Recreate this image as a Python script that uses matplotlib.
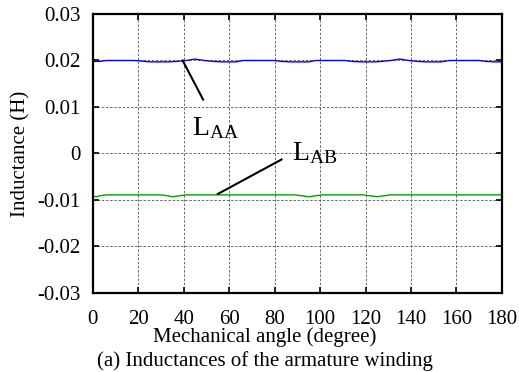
import numpy as np
import matplotlib
matplotlib.use('Agg')
import matplotlib.pyplot as plt

# self inductance of phase A (H) vs mechanical angle (deg)
angle_aa = [0, 3, 6, 18, 21, 25, 33, 37, 41, 45, 49, 53, 57, 63, 66, 80, 83,
            87, 95, 98, 111, 114, 118, 124, 127, 131, 135, 139, 143, 147, 153,
            157, 170, 173, 177, 180]
l_aa = [0.0198, 0.0198, 0.0200, 0.0200, 0.0199, 0.0197, 0.0197, 0.0198,
        0.0200, 0.0203, 0.0200, 0.0198, 0.0197, 0.0197, 0.0200, 0.0200,
        0.0198, 0.0197, 0.0197, 0.0200, 0.0200, 0.0198, 0.0197, 0.0197,
        0.0198, 0.0200, 0.0203, 0.0200, 0.0198, 0.0197, 0.0197, 0.0200,
        0.0200, 0.0198, 0.0197, 0.0197]

# mutual inductance between phases A and B (H)
angle_ab = [0, 1.5, 3, 6, 30, 33, 35, 38, 41, 89, 92, 95, 98, 101, 119, 122,
            125, 128, 131, 180]
l_ab = [-0.0092, -0.0093, -0.0091, -0.0089, -0.0089, -0.0091, -0.0093,
        -0.0091, -0.0089, -0.0089, -0.0091, -0.0093, -0.0091, -0.0089,
        -0.0089, -0.0091, -0.0093, -0.0091, -0.0089, -0.0089]

xticks = [0, 20, 40, 60, 80, 100, 120, 140, 160, 180]
yticks = [-0.03, -0.02, -0.01, 0, 0.01, 0.02, 0.03]
ytick_labels = ['-0.03', '-0.02', '-0.01', '0', '0.01', '0.02', '0.03']

plt.rcParams['font.family'] = ['Liberation Serif', 'DejaVu Serif']
plt.rcParams['mathtext.fontset'] = 'custom'
plt.rcParams['mathtext.rm'] = 'Liberation Serif'
plt.rcParams['mathtext.it'] = 'Liberation Serif'

fig = plt.figure(figsize=(5.19, 3.72), dpi=100)
ax = fig.add_axes([0.179, 0.2124, 0.788, 0.75])

ax.plot(angle_aa, l_aa, color='#0000ff', lw=1.0)
ax.plot(angle_ab, l_ab, color='#00a000', lw=1.0)

ax.set_xlim(0, 180)
ax.set_ylim(-0.03, 0.03)
ax.set_xticks(xticks)
ax.set_yticks(yticks)
ax.set_yticklabels(ytick_labels)
ax.tick_params(direction='in', length=4, width=1.2, labelsize=15,
               top=True, right=True)
ax.tick_params(axis='x', pad=12)
ax.tick_params(axis='y', pad=9)
ax.grid(True, color='#555555', linestyle=(0, (3, 2)), linewidth=0.6)
for sp in ax.spines.values():
    sp.set_linewidth(1.6)

ax.set_ylabel('Inductance (H)', fontsize=15)
ax.yaxis.set_label_coords(-0.152, 0.5)

fig.text(0.51, 1 - 337 / 372, 'Mechanical angle (degree)',
         fontsize=15, ha='center', va='center')
fig.text(0.51, 1 - 361 / 372, '(a) Inductances of the armature winding',
         fontsize=15, ha='center', va='center')

# leader lines and labels
ax.plot([39.5, 48.5], [0.0200, 0.0116], color='black', lw=1.5)
ax.text(43.6, 0.0039, r'L$_\mathrm{AA}$', fontsize=20,
        ha='left', va='baseline')
ax.plot([55, 83], [-0.0087, -0.0013], color='black', lw=1.5)
ax.text(87.6, -0.0015, r'L$_\mathrm{AB}$', fontsize=20,
        ha='left', va='baseline')

fig.savefig('out.png', dpi=100)
